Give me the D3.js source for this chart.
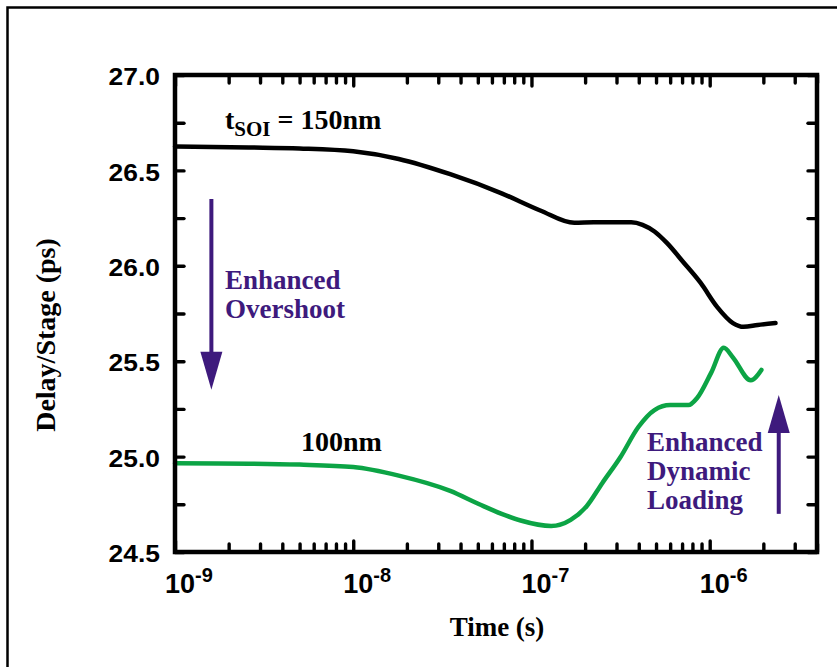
<!DOCTYPE html>
<html>
<head>
<meta charset="utf-8">
<script src="https://cdn.jsdelivr.net/npm/d3@7"></script>
<style>
  body { margin: 0; background: #fff; }
  .serif { font-family: "Liberation Serif", "Times New Roman", serif; font-weight: bold; }
  .sans  { font-family: "Liberation Sans", Arial, sans-serif; font-weight: bold; }
  .ticks line { stroke: #000; stroke-width: 3.4px; stroke-linecap: round; }
  .ticks .domain { display: none; }
</style>
</head>
<body>
<svg id="chart" width="837" height="667"></svg>
<script>
// Delay per stage vs. time for two SOI film thicknesses
const decades = [1e-9, 1e-8, 1e-7, 1e-6];
const yTickValues = [24.5, 25.0, 25.5, 26.0, 26.5, 27.0];
const yMinorValues = [24.75, 25.25, 25.75, 26.25, 26.75];

const time150 = [1.0e-9, 2.6e-9, 5.0e-9, 1.0e-8, 1.8e-8, 3.5e-8, 6.8e-8, 1.12e-7, 1.74e-7, 2.24e-7,
                 3.63e-7, 4.2e-7, 4.9e-7, 5.75e-7, 7.1e-7, 8.9e-7, 1.1e-6, 1.35e-6, 1.55e-6, 1.86e-6, 2.34e-6];
const delay150 = [26.625, 26.62, 26.615, 26.60, 26.56, 26.48, 26.38, 26.29, 26.225, 26.228,
                  26.228, 26.215, 26.18, 26.12, 26.02, 25.91, 25.785, 25.70, 25.68, 25.69, 25.70];

const time100 = [1.0e-9, 2.6e-9, 5.0e-9, 1.0e-8, 1.8e-8, 3.5e-8, 5.1e-8, 6.8e-8, 8.7e-8, 1.29e-7,
                 1.66e-7, 2.04e-7, 2.5e-7, 3.16e-7, 3.98e-7, 4.9e-7, 6.0e-7, 7.6e-7, 8.5e-7, 1.02e-6,
                 1.2e-6, 1.35e-6, 1.7e-6, 1.95e-6];
const delay100 = [24.965, 24.963, 24.958, 24.945, 24.90, 24.82, 24.75, 24.70, 24.665, 24.636,
                  24.668, 24.74, 24.862, 24.998, 25.155, 25.244, 25.27, 25.27, 25.307, 25.44,
                  25.57, 25.52, 25.40, 25.454];

const PURPLE = "#3e1a7d";
const GREEN = "#0ca445";

const svg = d3.select("#chart");
const plotL = 175, plotR = 817, plotT = 75, plotB = 552;

const x = d3.scaleLog().domain([1e-9, 4e-6]).range([plotL, plotR]);
const y = d3.scaleLinear().domain([24.5, 27]).range([plotB, plotT]);

// outer figure border (runs off the right and bottom edges)
svg.append("rect")
  .attr("x", 7.5).attr("y", 7.5).attr("width", 860).attr("height", 700)
  .attr("fill", "none").attr("stroke", "#000").attr("stroke-width", 2.5);

// curves
const line = d3.line().x(d => x(d[0])).y(d => y(d[1])).curve(d3.curveMonotoneX);
svg.append("path")
  .datum(d3.zip(time150, delay150))
  .attr("d", line).attr("fill", "none").attr("stroke", "#000")
  .attr("stroke-width", 4.5).attr("stroke-linecap", "round");
svg.append("path")
  .datum(d3.zip(time100, delay100))
  .attr("d", line).attr("fill", "none").attr("stroke", GREEN)
  .attr("stroke-width", 4.5).attr("stroke-linecap", "round");

// plot frame
svg.append("rect")
  .attr("x", plotL).attr("y", plotT).attr("width", plotR - plotL).attr("height", plotB - plotT)
  .attr("fill", "none").attr("stroke", "#000").attr("stroke-width", 4.5);

// inward ticks on all four sides
const minorX = x.ticks().filter(d => !decades.some(v => Math.abs(v - d) / v < 1e-6));
function tickAxis(gen, tx, ty) {
  svg.append("g").attr("class", "ticks")
    .attr("transform", `translate(${tx},${ty})`)
    .call(gen.tickFormat(""));
}
tickAxis(d3.axisBottom(x).tickValues(minorX).tickSize(-8), 0, plotB);
tickAxis(d3.axisBottom(x).tickValues(decades).tickSize(-11), 0, plotB);
tickAxis(d3.axisTop(x).tickValues(minorX).tickSize(-8), 0, plotT);
tickAxis(d3.axisTop(x).tickValues(decades).tickSize(-11), 0, plotT);
tickAxis(d3.axisLeft(y).tickValues(yTickValues.concat(yMinorValues)).tickSize(-9), plotL, 0);
tickAxis(d3.axisRight(y).tickValues(yTickValues.concat(yMinorValues)).tickSize(-9), plotR, 0);

// y tick labels
const yAxis = svg.append("g")
  .attr("transform", `translate(${plotL},0)`)
  .call(d3.axisLeft(y).tickValues(yTickValues).tickFormat(d3.format(".1f")).tickSize(0).tickPadding(15));
yAxis.select(".domain").remove();
yAxis.selectAll("text")
  .attr("class", "sans")
  .attr("dy", "0.4em")
  .style("font-size", "24px")
  .attr("fill", "#000")
  .each(function () {
    const w = this.getComputedTextLength();
    d3.select(this).attr("textLength", w * 1.1).attr("lengthAdjust", "spacingAndGlyphs");
  });

// x tick labels as powers of ten
const xl = svg.append("g").attr("class", "sans").attr("fill", "#000");
decades.forEach(d => {
  const t = xl.append("text")
    .attr("x", x(d) - 10).attr("y", 593)
    .style("font-size", "27px");
  t.append("tspan").text("10");
  t.append("tspan").attr("dy", -11).style("font-size", "20px").text(String(Math.round(Math.log10(d))));
});

// axis titles
svg.append("text").attr("class", "serif")
  .attr("x", 497).attr("y", 636).attr("text-anchor", "middle")
  .style("font-size", "27px").text("Time (s)");
svg.append("text").attr("class", "serif")
  .attr("transform", "translate(55,335) rotate(-90)").attr("text-anchor", "middle")
  .style("font-size", "28px").text("Delay/Stage (ps)");

// series labels
const lbl = svg.append("text").attr("class", "serif").attr("x", 225).attr("y", 129).style("font-size", "28px");
lbl.append("tspan").text("t");
lbl.append("tspan").attr("dy", 7).style("font-size", "21px").text("SOI");
lbl.append("tspan").attr("dy", -7).text(" = 150nm");

svg.append("text").attr("class", "serif").attr("x", 301).attr("y", 451)
  .style("font-size", "28px").text("100nm");

// annotations
function multiline(xp, y0, lines) {
  const t = svg.append("text").attr("class", "serif").attr("fill", PURPLE).style("font-size", "27px");
  lines.forEach((s, i) => t.append("tspan").attr("x", xp).attr("y", y0 + i * 29).text(s));
}
multiline(225, 289, ["Enhanced", "Overshoot"]);
multiline(647, 451, ["Enhanced", "Dynamic", "Loading"]);

function arrow(xv, fromV, toV) {
  const xp = x(xv), y0 = y(fromV), y1 = y(toV);
  const dir = Math.sign(y1 - y0);
  const headLen = 38, headW = 11;
  svg.append("line")
    .attr("x1", xp).attr("x2", xp).attr("y1", y0).attr("y2", y1 - dir * headLen + dir * 2)
    .attr("stroke", PURPLE).attr("stroke-width", 4);
  svg.append("path")
    .attr("d", `M${xp - headW},${y1 - dir * headLen} L${xp + headW},${y1 - dir * headLen} L${xp},${y1} Z`)
    .attr("fill", PURPLE);
}
arrow(1.6e-9, 26.35, 25.35);
arrow(2.44e-6, 24.7, 25.323);
</script>
</body>
</html>
